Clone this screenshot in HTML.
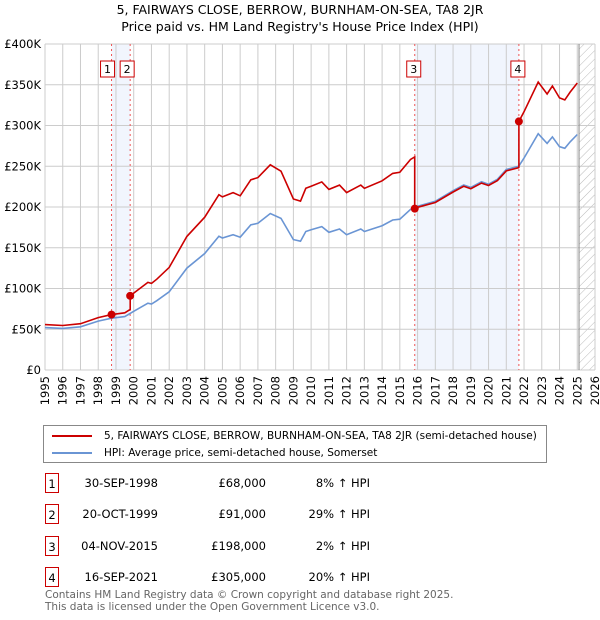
<!DOCTYPE html>
<html><head><meta charset="utf-8"><style>
body{margin:0;width:600px;height:620px;background:#fff;font-family:"DejaVu Sans","Liberation Sans",sans-serif;position:relative;overflow:hidden}
.t{position:absolute;font-size:11.5px;color:#000;white-space:nowrap}
.box{position:absolute;width:14px;height:20px;border:1px solid #c00;font-size:11.5px;text-align:center;line-height:20px;box-sizing:border-box}
</style></head><body>
<div class="t" style="left:0;width:600px;text-align:center;top:2px;font-size:12.5px">5, FAIRWAYS CLOSE, BERROW, BURNHAM-ON-SEA, TA8 2JR</div>
<div class="t" style="left:0;width:600px;text-align:center;top:19px;font-size:12.5px">Price paid vs. HM Land Registry's House Price Index (HPI)</div>
<svg id="chart" width="600" height="420" style="position:absolute;left:0;top:0" font-family="DejaVu Sans, Liberation Sans, sans-serif"></svg>
<div style="position:absolute;left:43px;top:425px;width:504px;height:38px;border:1px solid #888;box-sizing:border-box">
<div style="position:absolute;left:8px;top:4px;font-size:10.5px;white-space:nowrap"><span style="display:inline-block;width:40px;height:2px;background:#c00;vertical-align:middle;margin-right:12px"></span>5, FAIRWAYS CLOSE, BERROW, BURNHAM-ON-SEA, TA8 2JR (semi-detached house)</div>
<div style="position:absolute;left:8px;top:21px;font-size:10.5px;white-space:nowrap"><span style="display:inline-block;width:40px;height:2px;background:#6a95d4;vertical-align:middle;margin-right:12px"></span>HPI: Average price, semi-detached house, Somerset</div>
</div>
<div id="table"></div>
<div class="t" style="left:45px;top:589px;color:#666;font-size:10.5px">Contains HM Land Registry data © Crown copyright and database right 2025.</div>
<div class="t" style="left:45px;top:601px;color:#666;font-size:10.5px">This data is licensed under the Open Government Licence v3.0.</div>
<script>
const hpiYears=[1995,1996,1997,1998,1998.75,1999.5,2000,2000.8,2001,2001.3,2002,2003,2004,2004.8,2005,2005.6,2006,2006.6,2007,2007.7,2008.3,2009,2009.4,2009.7,2010,2010.6,2011,2011.6,2012,2012.8,2013,2014,2014.6,2015,2015.6,2016,2017,2018,2018.6,2019,2019.6,2020,2020.5,2021,2021.7,2022,2022.8,2023.3,2023.6,2024,2024.3,2024.6,2025];
const hpiValues=[52,51,53,60,63.5,65.5,72,82,81,85,96,125,143,164,162,166,163,178,180,192,186,160,158,170,172,176,169,173,166,173,170,177,184,185,197,201,207,220,227,224,231,228,234,246,250,260,290,278,286,274,272,280,289];
const saleYears=[1998.75,1999.8,2015.84,2021.71];
const salePrices=[68,91,198,305];
const saleLabels=["1","2","3","4"];
const saleDates=["30-SEP-1998","20-OCT-1999","04-NOV-2015","16-SEP-2021"];
const salePriceText=["£68,000","£91,000","£198,000","£305,000"];
const salePctText=["8% ↑ HPI","29% ↑ HPI","2% ↑ HPI","20% ↑ HPI"];
const yTicks=[0,50,100,150,200,250,300,350,400];
const yTickLabels=["£0","£50K","£100K","£150K","£200K","£250K","£300K","£350K","£400K"];

const X0=45,X1=595,Y0=370,Y1=44;
const xs=y=>X0+(y-1995)/31*(X1-X0);
const ys=v=>Y0-v/400*(Y0-Y1);
const NS="http://www.w3.org/2000/svg";
const svg=document.getElementById('chart');
function mk(tag,attrs,parent){const e=document.createElementNS(NS,tag);for(const k in attrs)e.setAttribute(k,attrs[k]);(parent||svg).appendChild(e);return e;}
function hpiAt(y){if(y<=hpiYears[0])return hpiValues[0];for(let i=1;i<hpiYears.length;i++){if(y<=hpiYears[i]){const t=(y-hpiYears[i-1])/(hpiYears[i]-hpiYears[i-1]);return hpiValues[i-1]+t*(hpiValues[i]-hpiValues[i-1]);}}return hpiValues[hpiValues.length-1];}
for(let i=0;i<saleYears.length-1;i+=2){const r=mk('rect',{x:xs(saleYears[i]),y:Y1,width:xs(saleYears[i+1])-xs(saleYears[i]),height:Y0-Y1,fill:'#eef3fc',opacity:0.8});}
const defs=mk('defs',{});const pat=mk('pattern',{id:'h',width:6,height:6,patternUnits:'userSpaceOnUse',patternTransform:'rotate(45)'},defs);mk('line',{x1:0,y1:0,x2:0,y2:6,stroke:'#bbb','stroke-width':1},pat);
const hr=mk('rect',{x:xs(2025.1),y:Y1,width:X1-xs(2025.1),height:Y0-Y1,fill:'url(#h)'});

for(let yr=1995;yr<=2026;yr++){const l=mk('line',{x1:xs(yr),x2:xs(yr),y1:Y1,y2:Y0,stroke:'#ccc'});
const t=mk('text',{x:0,y:0,'font-size':11.5,'text-anchor':'end',transform:`translate(${xs(yr)+4},${Y0+6}) rotate(-90)`});t.textContent=yr;}
yTicks.forEach((v,i)=>{const l=mk('line',{x1:X0,x2:X1,y1:ys(v),y2:ys(v),stroke:'#ccc'});
const t=mk('text',{x:X0-4,y:ys(v)+4,'font-size':11.5,'text-anchor':'end'});t.textContent=yTickLabels[i];});
const vl=mk('line',{x1:xs(2025.1),x2:xs(2025.1),y1:Y1,y2:Y0,stroke:'#888'});
saleYears.forEach((y,i)=>{const l=mk('line',{x1:xs(y),x2:xs(y),y1:Y1,y2:Y0,stroke:'#e55','stroke-dasharray':'2,3'});
const g=mk('g',{});
const x0=(i==0?xs(y)-11:i==1?xs(y)-10:xs(y)-8);
mk('rect',{x:x0,y:61,width:14,height:16,fill:'#fff',stroke:'#c00'},g);const t=mk('text',{x:x0+7,y:73,'font-size':11,'text-anchor':'middle'},g);t.textContent=saleLabels[i];});
let d='';hpiYears.forEach((y,i)=>{d+=(i?'L':'M')+xs(y).toFixed(1)+','+ys(hpiValues[i]).toFixed(1);});
const hp=mk('path',{d:d,fill:'none',stroke:'#6a95d4','stroke-width':1.6});
let pts=[];const grid=[...new Set([...hpiYears,...saleYears])].sort((a,b)=>a-b);
grid.forEach(y=>{let k=0;for(let j=0;j<saleYears.length;j++)if(y>=saleYears[j])k=j;
if(saleYears.includes(y)&&saleYears.indexOf(y)>0){const p=saleYears.indexOf(y)-1;pts.push([y,salePrices[p]*hpiAt(y)/hpiAt(saleYears[p])]);}
pts.push([y,salePrices[k]*hpiAt(y)/hpiAt(saleYears[k])]);});
let d2='';pts.forEach((p,i)=>{d2+=(i?'L':'M')+xs(p[0]).toFixed(1)+','+ys(p[1]).toFixed(1);});
const pp=mk('path',{d:d2,fill:'none',stroke:'#c00','stroke-width':1.6});
saleYears.forEach((y,i)=>{const c=mk('circle',{cx:xs(y),cy:ys(salePrices[i]),r:4,fill:'#c00'});});
const tb=document.getElementById('table');const rowY=[473,504,536,567];
saleYears.forEach((y,i)=>{const r=document.createElement('div');


r.style.cssText=`position:absolute;left:0;top:${rowY[i]}px;width:600px;height:22px`;
r.innerHTML=`<div class="box" style="left:45px;top:0">${saleLabels[i]}</div><div class="t" style="right:442px;top:3px">${saleDates[i]}</div><div class="t" style="right:334px;top:3px">${salePriceText[i]}</div><div class="t" style="right:230px;top:3px">${salePctText[i]}</div>`;tb.appendChild(r);});
</script>
</body></html>
